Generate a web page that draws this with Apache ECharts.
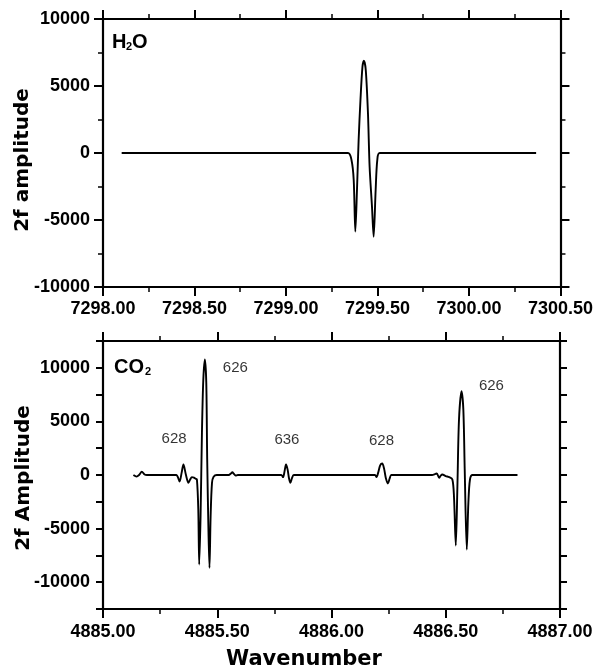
<!DOCTYPE html>
<html>
<head>
<meta charset="utf-8">
<script src="https://cdn.jsdelivr.net/npm/echarts@6/dist/echarts.min.js"></script>
<style>
html,body{margin:0;padding:0;background:#fff;}
#chart{width:596px;height:672px;}
</style>
</head>
<body>
<div id="chart"></div>
<script>
// ---- Data ----
const h2oWavenumber = [7298.102, 7299.339, 7299.358, 7299.370, 7299.379, 7299.388, 7299.397, 7299.407, 7299.418, 7299.426, 7299.436, 7299.448, 7299.457, 7299.470, 7299.479, 7299.490, 7299.499, 7299.512, 7300.367];
const h2oAmplitude  = [0, 0, -520, -2000, -5870, -2760, 970, 3950, 6440, 6890, 6190, 2960, -1020, -4000, -6250, -2760, -520, 0, 0];

const co2Wavenumber = [4885.133, 4885.147, 4885.158, 4885.170, 4885.182, 4885.192, 4885.320, 4885.335, 4885.344, 4885.352, 4885.362, 4885.374, 4885.382, 4885.389, 4885.398, 4885.405, 4885.411, 4885.417, 4885.421, 4885.427, 4885.433, 4885.439, 4885.446, 4885.452, 4885.456, 4885.462, 4885.466, 4885.471, 4885.477, 4885.484, 4885.498, 4885.550, 4885.560, 4885.566, 4885.573, 4885.580, 4885.590, 4885.780, 4885.788, 4885.795, 4885.801, 4885.808, 4885.814, 4885.820, 4885.827, 4885.835, 4886.190, 4886.197, 4886.204, 4886.213, 4886.222, 4886.230, 4886.238, 4886.247, 4886.255, 4886.262, 4886.440, 4886.455, 4886.461, 4886.471, 4886.478, 4886.485, 4886.500, 4886.515, 4886.529, 4886.536, 4886.544, 4886.551, 4886.558, 4886.569, 4886.577, 4886.583, 4886.592, 4886.599, 4886.606, 4886.617, 4886.814];
const co2Amplitude  = [0, -150, 0, 300, 50, 0, 0, -600, 200, 980, 100, -730, -400, -200, -250, -350, -420, -3220, -8350, -3840, 3940, 8910, 10770, 8600, 1450, -5700, -8660, -3840, -730, -170, 0, 0, 150, 250, 100, -50, 0, 0, -200, 400, 980, 500, -300, -730, -300, 0, 0, -200, 200, 900, 1070, 600, -300, -790, -300, 0, 0, 100, 140, -260, -50, 50, -100, -200, -420, -2000, -6580, -1050, 5180, 7820, 6100, 500, -6950, -2600, -420, 0, 0];

const peakLabelText       = ['628', '626', '636', '628', '626'];
const peakLabelWavenumber = [4885.311, 4885.579, 4885.805, 4886.219, 4886.700];
const peakLabelAmplitude  = [3400, 10000, 3250, 3150, 8280];

const topXTicks = {min: 7298.0, max: 7300.5, step: 0.5};
const botXTicks = {min: 4885.0, max: 4887.0, step: 0.5};
const topYTicks = {min: -10000, max: 10000, step: 5000};
const botYTicks = {min: -12500, max: 12500, step: 2500, labelStep: 5000};

// ---- Build ----
const zip = (a, b) => a.map((v, i) => [v, b[i]]);
const peakData = peakLabelText.map((t, i) => [peakLabelWavenumber[i], peakLabelAmplitude[i], t]);

const tickFont = {fontFamily: 'Liberation Sans', fontWeight: 'bold', fontSize: 18, color: '#000'};
const lineStyle = {color: '#000', width: 2.2};

function xAxisDef(grid, pos, t, labels, margin) {
  return {
    type: 'value', gridIndex: grid, position: pos,
    min: t.min, max: t.max, interval: t.step,
    axisLine: {show: true, onZero: false, lineStyle: lineStyle},
    axisTick: {show: true, length: 9, lineStyle: {color: '#000', width: 2}},
    minorTick: {show: true, splitNumber: 2, length: 5, lineStyle: {color: '#000', width: 1.5}},
    splitLine: {show: false}, minorSplitLine: {show: false},
    axisLabel: Object.assign({show: labels, margin: margin, showMinLabel: true, showMaxLabel: true,
      formatter: v => v.toFixed(2)}, tickFont)
  };
}
function yAxisDef(grid, pos, t, labels, minor) {
  const lab = t.labelStep || t.step;
  return {
    type: 'value', gridIndex: grid, position: pos,
    min: t.min, max: t.max, interval: t.step,
    axisLine: {show: true, onZero: false, lineStyle: lineStyle},
    axisTick: {show: true, length: minor ? 9 : 7, lineStyle: {color: '#000', width: 2}},
    minorTick: {show: minor, splitNumber: 2, length: 5, lineStyle: {color: '#000', width: 1.5}},
    splitLine: {show: false}, minorSplitLine: {show: false},
    axisLabel: Object.assign({show: labels, margin: 13, showMinLabel: true, showMaxLabel: true,
      formatter: v => (Math.abs(v % lab) < 1e-6 ? String(v) : '')}, tickFont)
  };
}

function txt(x, y, text, family, size, align, rot) {
  return {type: 'text', x: x, y: y, rotation: rot || 0,
    style: {text: text, fontFamily: family, fontWeight: 'bold', fontSize: size, fill: '#000',
      align: align, verticalAlign: 'middle', textAlign: align, textVerticalAlign: 'middle'}};
}

const option = {
  backgroundColor: '#fff',
  animation: false,
  grid: [
    {left: 103, top: 19, width: 458, height: 268},
    {left: 103, top: 341, width: 457, height: 268}
  ],
  xAxis: [
    xAxisDef(0, 'bottom', topXTicks, true, 13),
    xAxisDef(0, 'top', topXTicks, false, 13),
    xAxisDef(1, 'bottom', botXTicks, true, 14),
    xAxisDef(1, 'top', botXTicks, false, 14)
  ],
  yAxis: [
    yAxisDef(0, 'left', topYTicks, true, true),
    yAxisDef(0, 'right', topYTicks, false, true),
    yAxisDef(1, 'left', botYTicks, true, false),
    yAxisDef(1, 'right', botYTicks, false, false)
  ],
  series: [
    {type: 'line', xAxisIndex: 0, yAxisIndex: 0, data: zip(h2oWavenumber, h2oAmplitude),
      showSymbol: false, smooth: 0.3, lineStyle: {color: '#000', width: 1.9}},
    {type: 'line', xAxisIndex: 2, yAxisIndex: 2, data: zip(co2Wavenumber, co2Amplitude),
      showSymbol: false, smooth: 0.3, lineStyle: {color: '#000', width: 1.9}},
    {type: 'scatter', xAxisIndex: 2, yAxisIndex: 2, data: peakData, symbolSize: 0,
      label: {show: true, position: 'inside', formatter: p => p.value[2],
        fontFamily: 'Liberation Sans', fontSize: 15, color: '#000'}}
  ],
  graphic: [
    txt(23, 160, '2f amplitude', 'DejaVu Sans', 20, 'center', Math.PI / 2),
    txt(24, 478, '2f Amplitude', 'DejaVu Sans', 20, 'center', Math.PI / 2),
    txt(304, 660, 'Wavenumber', 'DejaVu Sans', 21, 'center'),
    // H2O
    txt(112, 42, 'H', 'Liberation Sans', 20, 'left'),
    txt(126, 47, '2', 'Liberation Sans', 11, 'left'),
    txt(132, 42, 'O', 'Liberation Sans', 20, 'left'),
    // CO2
    txt(114, 367, 'CO', 'Liberation Sans', 20, 'left'),
    txt(145, 372, '2', 'Liberation Sans', 11, 'left')
  ]
};

const chart = echarts.init(document.getElementById('chart'), null, {renderer: 'canvas'});
chart.setOption(option);
</script>
</body>
</html>
